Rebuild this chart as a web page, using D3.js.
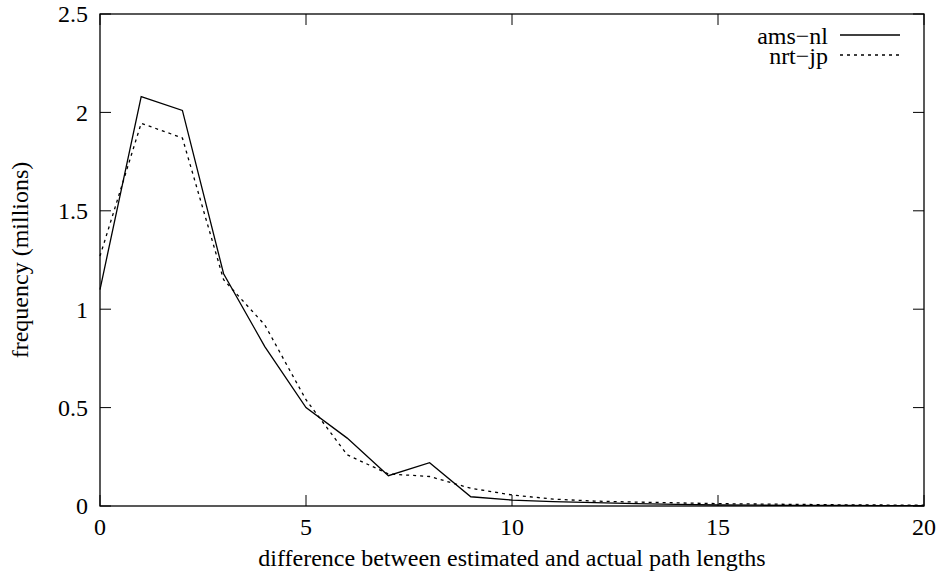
<!DOCTYPE html>
<html><head><meta charset="utf-8">
<script src="https://cdn.jsdelivr.net/npm/d3@7"></script>
<style>body{margin:0;background:#fff}text{font-family:"Liberation Serif","Times New Roman",serif;fill:#000}</style>
</head><body>
<svg id="c" width="942" height="574"></svg>
<script>
const xValues = [0,1,2,3,4,5,6,7,8,9,10,11,12,13,14,15,16,17,18,19,20];
const amsNl = [1.10,2.08,2.01,1.18,0.81,0.50,0.345,0.154,0.22,0.047,0.03,0.022,0.017,0.012,0.008,0.005,0.004,0.003,0.003,0.002,0.002];
const nrtJp = [1.27,1.945,1.87,1.15,0.92,0.54,0.26,0.163,0.15,0.09,0.056,0.035,0.025,0.02,0.016,0.012,0.01,0.008,0.006,0.005,0.004];
const xTicks = [0,5,10,15,20];
const yTicks = [0,0.5,1,1.5,2,2.5];
const seriesNames = ["ams\u2212nl","nrt\u2212jp"];

const svg = d3.select("#c");
const L=100,R=924,T=14,B=506;
const x = d3.scaleLinear().domain([0,20]).range([L,R]);
const y = d3.scaleLinear().domain([0,2.5]).range([B,T]);
const tl = 11, fs = 24;

const g = svg.append("g");
xTicks.forEach(v=>{
  g.append("line").attr("x1",x(v)).attr("x2",x(v)).attr("y1",B).attr("y2",B-tl).attr("stroke","#000");
  g.append("line").attr("x1",x(v)).attr("x2",x(v)).attr("y1",T).attr("y2",T+tl).attr("stroke","#000");
  g.append("text").attr("x",x(v)).attr("y",B+29).attr("text-anchor","middle").attr("font-size",fs).text(d3.format("d")(v));
});
yTicks.forEach(v=>{
  g.append("line").attr("x1",L).attr("x2",L+tl).attr("y1",y(v)).attr("y2",y(v)).attr("stroke","#000");
  g.append("line").attr("x1",R).attr("x2",R-tl).attr("y1",y(v)).attr("y2",y(v)).attr("stroke","#000");
  g.append("text").attr("x",L-12).attr("y",y(v)).attr("dy","0.35em").attr("text-anchor","end").attr("font-size",fs).text(v);
});
g.append("rect").attr("x",L).attr("y",T).attr("width",R-L).attr("height",B-T).attr("fill","none").attr("stroke","#000").attr("stroke-width",1.3);

const line = d3.line().x((d,i)=>x(xValues[i])).y(d=>y(d));
svg.append("path").datum(amsNl).attr("d",line).attr("fill","none").attr("stroke","#000").attr("stroke-width",1.3);
svg.append("path").datum(nrtJp).attr("d",line).attr("fill","none").attr("stroke","#000").attr("stroke-width",1.3).attr("stroke-dasharray","3,4");

const legY=[35,55];
seriesNames.forEach((n,i)=>{
  svg.append("text").attr("x",828).attr("y",legY[i]+9).attr("text-anchor","end").attr("font-size",fs).text(n);
  svg.append("line").attr("x1",840).attr("x2",900).attr("y1",legY[i]).attr("y2",legY[i]).attr("stroke","#000").attr("stroke-width",1.3)
    .attr("stroke-dasharray",i===1?"3,4":null);
});

svg.append("text").attr("x",(L+R)/2).attr("y",566).attr("text-anchor","middle").attr("font-size",fs).text("difference between estimated and actual path lengths");
svg.append("text").attr("transform",`translate(28,${(T+B)/2}) rotate(-90)`).attr("text-anchor","middle").attr("font-size",fs).text("frequency (millions)");
</script>
</body></html>
